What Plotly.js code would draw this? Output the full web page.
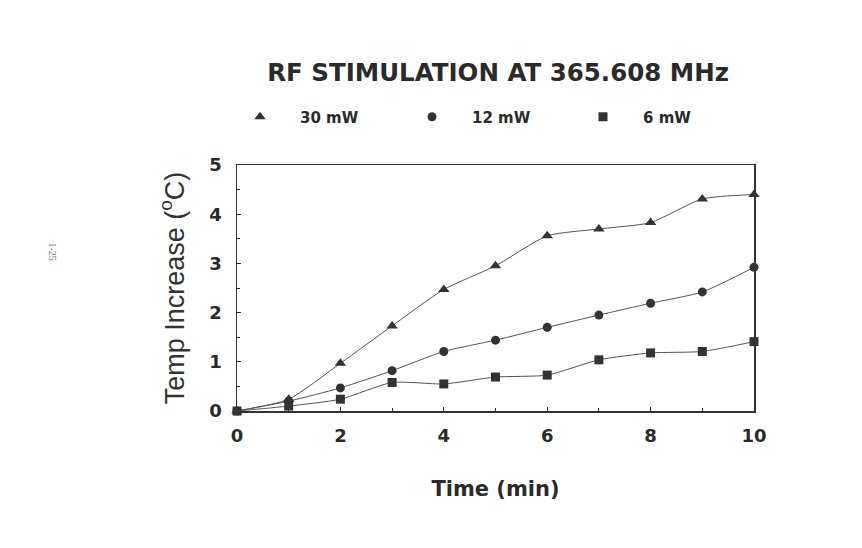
<!DOCTYPE html>
<html>
<head>
<meta charset="utf-8">
<script src="https://cdn.plot.ly/plotly-3.0.1.min.js"></script>
<style>html,body{margin:0;padding:0;background:#fff;}</style>
</head>
<body>
<div id="chart" style="width:862px;height:548px;"></div>
<script>
// Data
const timeMin = [0, 1, 2, 3, 4, 5, 6, 7, 8, 9, 10];
const seriesNames = ["30 mW", "12 mW", "6 mW"];
const temp30mW = [0, 0.24, 0.97, 1.73, 2.47, 2.95, 3.56, 3.70, 3.83, 4.31, 4.40];
const temp12mW = [0, 0.20, 0.47, 0.82, 1.21, 1.44, 1.70, 1.95, 2.19, 2.42, 2.92];
const temp6mW  = [0, 0.10, 0.24, 0.58, 0.55, 0.69, 0.73, 1.04, 1.18, 1.21, 1.41];
const markerSymbols = ["triangle-up", "circle", "square"];
const xTicks = [0, 2, 4, 6, 8, 10];
const yTicks = [0, 1, 2, 3, 4, 5];

const seriesValues = [temp30mW, temp12mW, temp6mW];
const markerSizes = [10, 9, 9];
const legendIds = ["legend", "legend2", "legend3"];
const legendLeftPx = [220, 392, 563];
const ink = "#333";

const traces = [];
// smooth connecting curves (no legend)
seriesValues.forEach((vals, i) => {
  traces.push({
    x: timeMin, y: vals, type: "scatter", mode: "lines",
    line: {shape: "spline", smoothing: 0.6, color: "#555", width: 1},
    showlegend: false, hoverinfo: "skip", cliponaxis: false
  });
});
// markers (legend entries)
seriesValues.forEach((vals, i) => {
  traces.push({
    x: timeMin, y: vals, type: "scatter", mode: "markers",
    name: seriesNames[i], legend: legendIds[i],
    marker: {symbol: markerSymbols[i], size: markerSizes[i], color: ink},
    cliponaxis: false
  });
});

const boldFont = "DejaVu Sans, sans-serif";

function legendBox(i) {
  return {
    orientation: "h",
    xref: "container", x: legendLeftPx[i] / 862, xanchor: "left",
    yref: "container", y: 1 - 117/548, yanchor: "middle",
    font: {family: boldFont, size: 15, color: "#2a2a2a", weight: "bold"},
    itemwidth: 70,
    bgcolor: "rgba(0,0,0,0)"
  };
}

const layout = {
  width: 862, height: 548,
  margin: {l: 237, r: 108, t: 165, b: 137},
  paper_bgcolor: "#fff", plot_bgcolor: "#fff",
  title: {
    text: "<b>RF STIMULATION AT 365.608 MHz</b>",
    font: {family: boldFont, size: 24.5, color: "#2a2a2a"},
    xref: "paper", x: 0.505, xanchor: "center",
    yref: "container", y: 1 - 72/548, yanchor: "middle"
  },
  showlegend: true,
  legend: legendBox(0),
  legend2: legendBox(1),
  legend3: legendBox(2),
  xaxis: {
    range: [0, 10], tickvals: xTicks, ticktext: xTicks.map(String),
    showgrid: false, zeroline: false, showline: true, mirror: true,
    linecolor: ink, linewidth: 1.5,
    ticks: "inside", ticklen: 4, tickcolor: ink,
    minor: {dtick: 1, ticks: "inside", ticklen: 3, tickcolor: ink},
    tickfont: {family: boldFont, size: 18, color: "#2a2a2a", weight: "bold"},
    ticklabelstandoff: 8,
    title: {text: "<b>Time (min)</b>", font: {family: boldFont, size: 21, color: "#2a2a2a"}, standoff: 36}
  },
  yaxis: {
    range: [0, 5], tickvals: yTicks, ticktext: yTicks.map(String),
    showgrid: false, zeroline: false, showline: true, mirror: true,
    linecolor: ink, linewidth: 1.5,
    ticks: "inside", ticklen: 4, tickcolor: ink,
    minor: {dtick: 0.5, ticks: "inside", ticklen: 3, tickcolor: ink},
    tickfont: {family: boldFont, size: 18, color: "#2a2a2a", weight: "bold"},
    ticklabelstandoff: 10,
    title: {text: "Temp Increase (<sup>o</sup>C)", font: {family: "Liberation Sans, Arial, sans-serif", size: 27, color: "#333"}, standoff: 17}
  },
  annotations: [{
    text: "1-25", xref: "paper", yref: "paper",
    x: (45 - 237) / 517, y: (411 - 240) / 246,
    showarrow: false, textangle: 90,
    font: {family: "Liberation Serif, serif", size: 10, color: "#777"}
  }]
};

Plotly.newPlot("chart", traces, layout, {staticPlot: true, displayModeBar: false});
</script>
</body>
</html>
